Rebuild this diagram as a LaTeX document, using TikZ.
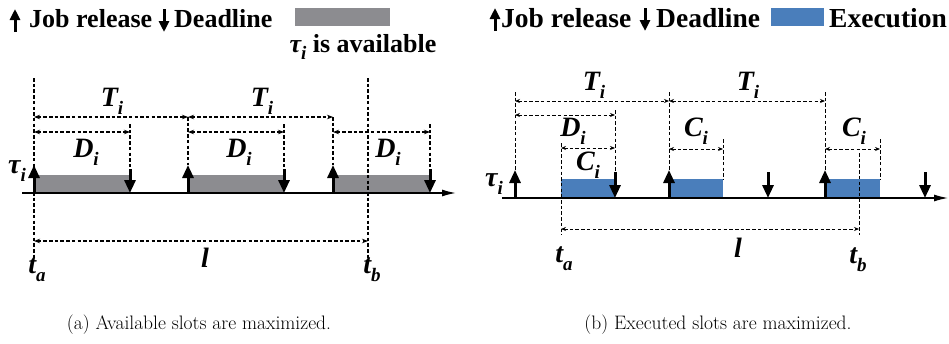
\documentclass[tikz,border=0pt]{standalone}
\usepackage{fontspec}
\newfontfamily\tfont{LiberationSerif}[
  Extension=.ttf, UprightFont=*-Regular, BoldFont=*-Bold,
  ItalicFont=*-Italic, BoldItalicFont=*-BoldItalic]
\usetikzlibrary{arrows.meta}
\definecolor{availgray}{RGB}{140,140,144}
\definecolor{execblue}{RGB}{74,126,187}
\newcommand\symb[2]{{\tfont\bfseries\itshape #1\raisebox{-0.28em}{\fontsize{19}{19}\selectfont #2}}}
\tikzset{
  lbl/.style={font=\tfont\bfseries\fontsize{28}{30}\selectfont, inner sep=0pt},
  legtxt/.style={font=\tfont\bfseries\fontsize{26}{28}\selectfont, inner sep=0pt, anchor=base west},
  legtxtb/.style={font=\tfont\bfseries\fontsize{27.5}{30}\selectfont, inner sep=0pt, anchor=base west},
  captxt/.style={font=\fontsize{19.5}{21}\selectfont, inner sep=0pt},
  dimA/.style={dash pattern=on 3.5pt off 2.2pt, line width=1.1pt,
    {Stealth[length=6pt,width=4.5pt]}-{Stealth[length=6pt,width=4.5pt]}},
  guideA/.style={dash pattern=on 3.5pt off 2.2pt, line width=1.1pt},
  dimB/.style={dash pattern=on 3.5pt off 2.2pt, line width=0.8pt,
    {Stealth[length=5pt,width=4pt]}-{Stealth[length=5pt,width=4pt]}},
  guideB/.style={dash pattern=on 3.5pt off 2.2pt, line width=0.8pt},
  relarr/.style={line width=3pt, -{Triangle[length=13pt,width=11pt]}},
  legarr/.style={line width=3pt, -{Triangle[length=11pt,width=10pt]}},
  axisline/.style={line width=1.5pt, -{Latex[length=14pt,width=7pt]}},
}
\begin{document}
\begin{tikzpicture}[x=1pt,y=-1pt]
\useasboundingbox (0,0) rectangle (949,343);

% ---------------- left panel: available slots ----------------
% legend
\coordinate (la1) at (15,32); \coordinate (la2) at (15,9);
\draw[legarr] (la1) -- (la2);
\node[legtxt] (legJa) at (29,27) {Job release};
\coordinate (ld1) at (164,9); \coordinate (ld2) at (164,32);
\draw[legarr] (ld1) -- (ld2);
\node[legtxt] (legDa) at (174,27) {Deadline};
\fill[availgray] (295,8) rectangle (390,26);
\node[lbl, font=\tfont\bfseries\fontsize{26}{28}\selectfont] (legAv) at (363,47) {\symb{τ}{i} is available};

% available intervals
\foreach \s/\e in {34/130,188/284,333/430}
  \fill[availgray] (\s,175) rectangle (\e,193);

% time axis
\coordinate (axA0) at (22,193); \coordinate (axA1) at (456,193);
\draw[axisline] (axA0) -- (axA1);

% releases and deadlines
\foreach \n/\x in {1/34,2/188,3/333} {
  \coordinate (ra\n) at (\x,193); \coordinate (rat\n) at (\x,165);
  \coordinate (rag\n) at (\x,117);
  \draw[relarr] (ra\n) -- (rat\n);
}
\foreach \n/\x in {1/130,2/284,3/430} {
  \coordinate (da\n) at (\x,169); \coordinate (dat\n) at (\x,193);
  \coordinate (dag\n) at (\x,124);
  \draw[relarr] (da\n) -- (dat\n);
}

% time window lines
\coordinate (taT) at (34,78); \coordinate (taB) at (34,260);
\coordinate (tbT) at (368,78); \coordinate (tbB) at (368,258);
\draw[guideA] (taT) -- (taB);
\draw[guideA] (tbT) -- (tbB);
\draw[guideA] (rag2) -- (rat2);
\draw[guideA] (rag3) -- (rat3);
\foreach \n in {1,2,3} \draw[guideA] (dag\n) -- (da\n);

% period and deadline dimensions
\coordinate (Ta0) at (34,117); \coordinate (Ta1) at (188,117); \coordinate (Ta2) at (333,117);
\draw[dimA] (Ta0) -- (Ta1);
\draw[dimA] (Ta1) -- (Ta2);
\coordinate (Da0) at (34,132); \coordinate (Da1) at (130,132);
\coordinate (Da2) at (188,132); \coordinate (Da3) at (284,132);
\coordinate (Da4) at (333,132); \coordinate (Da5) at (430,132);
\draw[dimA] (Da0) -- (Da1);
\draw[dimA] (Da2) -- (Da3);
\draw[dimA] (Da4) -- (Da5);
\coordinate (La0) at (34,241); \coordinate (La1) at (368,241);
\draw[dimA] (La0) -- (La1);

% labels
\node[lbl] (TlA1) at (112,101) {\symb{T}{i}};
\node[lbl] (TlA2) at (262,101) {\symb{T}{i}};
\node[lbl] (DlA1) at (86,152) {\symb{D}{i}};
\node[lbl] (DlA2) at (239,152) {\symb{D}{i}};
\node[lbl] (DlA3) at (388,152) {\symb{D}{i}};
\node[lbl] (tauA) at (17,171) {\symb{τ}{i}};
\node[lbl] (lA) at (205,262) {\symb{l}{}};
\node[lbl] (taA) at (37,270) {\symb{t}{a}};
\node[lbl] (tbA) at (372,270) {\symb{t}{b}};

\node[captxt] (capA) at (199,325) {(a) Available slots are maximized.};

% ---------------- right panel: executed slots ----------------
% legend
\coordinate (lb1) at (495,31); \coordinate (lb2) at (495,8);
\draw[legarr] (lb1) -- (lb2);
\node[legtxtb] (legJb) at (501,27) {Job release};
\coordinate (le1) at (645,8); \coordinate (le2) at (645,31);
\draw[legarr] (le1) -- (le2);
\node[legtxtb] (legDb) at (656,27) {Deadline};
\fill[execblue] (771,8) rectangle (824,26);
\node[legtxtb] (legEx) at (829,27) {Execution};

% executed intervals
\foreach \s/\e in {561/615,670/723,827/880}
  \fill[execblue] (\s,179) rectangle (\e,198);

% time axis
\coordinate (axB0) at (502,198); \coordinate (axB1) at (948,198);
\draw[axisline, line width=1.2pt] (axB0) -- (axB1);

% releases and deadlines
\foreach \n/\x in {1/515,2/669,3/825} {
  \coordinate (rb\n) at (\x,198); \coordinate (rbt\n) at (\x,170);
  \coordinate (rbg\n) at (\x,92);
  \draw[relarr] (rb\n) -- (rbt\n);
  \draw[guideB] (rbg\n) -- (rbt\n);
}
\foreach \n/\x in {1/615,2/768,3/925} {
  \coordinate (db\n) at (\x,172); \coordinate (dbt\n) at (\x,198);
  \draw[relarr] (db\n) -- (dbt\n);
}

% time window lines
\coordinate (tbaT) at (561,143); \coordinate (tbaB) at (561,235);
\coordinate (tbbT) at (859,153); \coordinate (tbbB) at (859,235);
\draw[guideB] (tbaT) -- (tbaB);
\draw[guideB] (tbbT) -- (tbbB);
\coordinate (dbg1) at (615,110);
\draw[guideB] (dbg1) -- (db1);
\coordinate (cg2T) at (723,139); \coordinate (cg2B) at (723,179);
\coordinate (cg3T) at (880,139); \coordinate (cg3B) at (880,179);
\draw[guideB] (cg2T) -- (cg2B);
\draw[guideB] (cg3T) -- (cg3B);

% dimensions
\coordinate (Tb0) at (515,101); \coordinate (Tb1) at (669,101); \coordinate (Tb2) at (825,101);
\draw[dimB] (Tb0) -- (Tb1);
\draw[dimB] (Tb1) -- (Tb2);
\coordinate (Db0) at (515,115); \coordinate (Db1) at (615,115);
\draw[dimB] (Db0) -- (Db1);
\coordinate (Cb0) at (561,148); \coordinate (Cb1) at (615,148);
\coordinate (Cb2) at (669,149); \coordinate (Cb3) at (723,149);
\coordinate (Cb4) at (825,149); \coordinate (Cb5) at (880,149);
\draw[dimB] (Cb0) -- (Cb1);
\draw[dimB] (Cb2) -- (Cb3);
\draw[dimB] (Cb4) -- (Cb5);
\coordinate (Lb0) at (561,229); \coordinate (Lb1) at (859,229);
\draw[dimB] (Lb0) -- (Lb1);

% labels
\node[lbl] (TlB1) at (594,85) {\symb{T}{i}};
\node[lbl] (TlB2) at (748,85) {\symb{T}{i}};
\node[lbl] (DlB) at (573,131) {\symb{D}{i}};
\node[lbl] (ClB1) at (588,165) {\symb{C}{i}};
\node[lbl] (ClB2) at (696,131) {\symb{C}{i}};
\node[lbl] (ClB3) at (854,131) {\symb{C}{i}};
\node[lbl] (tauB) at (494,184) {\symb{τ}{i}};
\node[lbl] (lB) at (738,252) {\symb{l}{}};
\node[lbl] (taB) at (564,259) {\symb{t}{a}};
\node[lbl] (tbB) at (858,260) {\symb{t}{b}};

\node[captxt] (capB) at (718,325) {(b) Executed slots are maximized.};
\end{tikzpicture}
\end{document}
